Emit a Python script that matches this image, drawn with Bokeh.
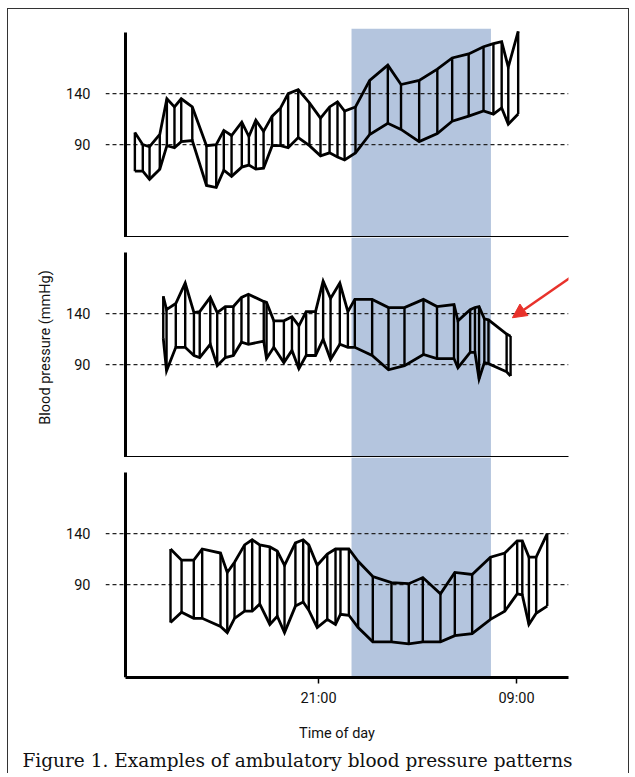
from bokeh.plotting import figure
from bokeh.models import (Range1d, Span, BoxAnnotation, FixedTicker, Arrow, NormalHead,
                          Title, LinearAxis)
from bokeh.layouts import column
from bokeh.embed import file_html
from bokeh.resources import INLINE

# ---------------- data (hours of day; values > 24 are the next morning) ----------------
P1_HOURS = [9.87, 10.35, 10.76, 11.38, 11.81, 12.27, 12.68, 13.35, 14.21, 14.8, 15.26, 15.73,
            16.35, 16.78, 17.2, 17.67, 18.19, 18.7, 19.16, 19.77, 20.45, 21.12, 21.67, 22.15,
            22.58, 23.24, 24.1, 25.2, 26.0, 27.1, 28.2, 29.1, 30.1, 31.0, 31.6, 32.1, 32.5, 33.1]
P1_SYS = [102, 90, 88, 100, 135, 127, 135, 127, 89, 90, 104, 99,
          112, 98, 114, 103, 118, 126, 140, 144, 131, 116, 127, 132,
          123, 127, 153, 168, 149, 153, 164, 175, 179, 186, 189, 191, 166, 201]
P1_DIA = [64, 64, 56, 66, 89, 87, 93, 94, 50, 48, 65, 59,
          68, 70, 66, 67, 89, 89, 87, 97, 89, 79, 82, 78,
          75, 82, 100, 111, 105, 93, 101, 113, 118, 123, 120, 126, 110, 120]

P2_HOURS = [11.59, 11.79, 12.35, 12.92, 13.45, 13.8, 14.44, 14.86, 15.35, 15.84, 16.33, 16.75,
            17.68, 17.85, 18.29, 18.9, 19.39, 19.81, 20.25, 20.82, 21.28, 21.73, 22.29, 22.78,
            23.2, 24.25, 25.24, 26.21, 27.36, 28.18, 29.21, 29.45, 30.19, 30.48, 30.73, 31.05,
            31.3, 32.4, 32.64]
P2_SYS = [157, 144, 150, 170, 141, 142, 156, 141, 147, 147, 156, 159,
          152, 151, 133, 133, 137, 128, 142, 142, 172, 155, 170, 142,
          154, 154, 146, 146, 154, 147, 149, 133, 144, 146, 147, 135,
          134, 120, 118]
P2_DIA = [116, 84, 107, 107, 99, 97, 110, 89, 97, 99, 112, 110,
          113, 96, 107, 92, 104, 86, 99, 99, 115, 95, 110, 107,
          107, 99, 85, 89, 100, 96, 96, 87, 102, 102, 76, 92,
          91, 83, 79]

P3_HOURS = [12.03, 12.7, 13.44, 13.95, 15.06, 15.47, 15.91, 16.52, 16.98, 17.44, 18.05, 18.5,
            18.94, 19.6, 20.07, 20.41, 20.92, 21.53, 22.03, 22.33, 22.84, 23.4, 24.29, 25.42,
            26.47, 27.32, 28.39, 29.26, 30.31, 31.42, 32.29, 33.04, 33.35, 33.75, 34.19, 34.86]
P3_SYS = [125, 114, 114, 125, 121, 102, 112, 129, 134, 129, 127, 123,
          109, 131, 134, 129, 109, 120, 125, 125, 125, 113, 98, 92,
          91, 97, 81, 102, 100, 117, 121, 133, 133, 117, 117, 140]
P3_DIA = [53, 63, 57, 57, 49, 43, 57, 64, 64, 71, 51, 59,
          43, 69, 73, 65, 48, 56, 51, 61, 60, 48, 34, 34,
          32, 34, 34, 40, 42, 56, 64, 81, 80, 51, 62, 69]

REF_LEVELS = [90, 140]
X_TICKS = [21, 33]
X_TICK_LABELS = ["21:00", "09:00"]
NIGHT_START, NIGHT_END = 23.0, 31.45
ARROW_FROM = (36.5, 178)
ARROW_TO = (32.75, 136)

Y_LABEL = "Blood pressure (mmHg)"
X_LABEL = "Time of day"
CAPTION = "Figure 1. Examples of ambulatory blood pressure patterns"

# ---------------- layout / style ----------------
X_START, X_END = 8.09, 36.15
AXIS_X = 9.3
Y_MIN, Y_AXIS_TOP = -1, 200
PX_PER_UNIT = 1.02
FRAME_W = 463
BAND = "#b4c5de"
RED = "#e8322b"
SANS = "Roboto"


def make_panel(hours, sys, dia, frame_h, top_border, bottom=False, ylabel=None):
    p = figure(frame_width=FRAME_W, frame_height=frame_h,
               x_range=Range1d(X_START, X_END),
               y_range=Range1d(Y_MIN, Y_MIN + frame_h / PX_PER_UNIT),
               output_backend="svg", toolbar_location=None,
               min_border_left=97, min_border_right=60,
               min_border_top=top_border, min_border_bottom=0)
    p.outline_line_color = None
    p.grid.visible = False

    p.add_layout(BoxAnnotation(left=NIGHT_START, right=NIGHT_END, fill_color=BAND,
                               fill_alpha=1, line_color=None, level="underlay"))
    for lv in REF_LEVELS:
        p.add_layout(Span(location=lv, dimension="width", line_color="#222222",
                          line_width=1.3, line_dash="4 3", level="underlay"))

    p.segment(x0=hours, y0=dia, x1=hours, y1=sys, line_color="black", line_width=2.4)
    p.line(hours, sys, line_color="black", line_width=2.8, line_join="miter")
    p.line(hours, dia, line_color="black", line_width=2.8, line_join="miter")

    # label-only axis at the frame edge
    ya = p.yaxis[0]
    ya.ticker = FixedTicker(ticks=REF_LEVELS)
    ya.axis_line_color = None
    ya.major_tick_line_color = None
    ya.minor_tick_line_color = None
    ya.major_label_standoff = 9
    ya.major_label_text_font = SANS
    ya.major_label_text_font_size = "14.5px"
    ya.major_label_text_color = "#111111"
    if ylabel:
        ya.axis_label = ylabel
        ya.axis_label_text_font = SANS
        ya.axis_label_text_font_size = "14.5px"
        ya.axis_label_text_font_style = "normal"
        ya.axis_label_text_color = "#111111"
        ya.axis_label_standoff = 9

    # the drawn vertical axis line
    line_axis = LinearAxis(fixed_location=AXIS_X, bounds=(Y_MIN, Y_AXIS_TOP),
                           ticker=FixedTicker(ticks=[]), major_tick_out=0, major_tick_in=0,
                           minor_tick_out=0, minor_tick_in=0, major_label_standoff=0,
                           axis_line_width=3)
    p.add_layout(line_axis, "left")

    xa = p.xaxis[0]
    xa.bounds = (AXIS_X, X_END)
    xa.axis_line_width = 3
    xa.minor_tick_out = 0
    xa.minor_tick_in = 0
    xa.major_tick_in = 0
    if bottom:
        xa.ticker = FixedTicker(ticks=X_TICKS)
        xa.major_label_overrides = {t: s for t, s in zip(X_TICKS, X_TICK_LABELS)}
        xa.major_tick_out = 6
        xa.major_tick_line_width = 1.5
        xa.major_label_standoff = 6
        xa.major_label_text_font = SANS
        xa.major_label_text_font_size = "14.5px"
        xa.major_label_text_color = "#111111"
        xa.axis_label = X_LABEL
        xa.axis_label_text_font = SANS
        xa.axis_label_text_font_size = "14.5px"
        xa.axis_label_text_font_style = "normal"
        xa.axis_label_text_color = "#111111"
        xa.axis_label_standoff = 15
    else:
        xa.ticker = FixedTicker(ticks=[])
        xa.major_tick_out = 0
        xa.major_label_standoff = 0
    return p


p1 = make_panel(P1_HOURS, P1_SYS, P1_DIA, 209, 19)
p2 = make_panel(P2_HOURS, P2_SYS, P2_DIA, 220, 0, ylabel=Y_LABEL)
p3 = make_panel(P3_HOURS, P3_SYS, P3_DIA, 220, 0, bottom=True)

p2.add_layout(Arrow(end=NormalHead(fill_color=RED, line_color=RED, size=14),
                    x_start=ARROW_FROM[0], y_start=ARROW_FROM[1],
                    x_end=ARROW_TO[0], y_end=ARROW_TO[1],
                    line_color=RED, line_width=2.5))

p3.add_layout(Title(text=CAPTION, align="left", offset=-83, text_font="DejaVu Serif",
                    text_font_size="18.5px", text_font_style="normal", text_color="#111111",
                    standoff=6), "below")
p3.min_border_bottom = 0

layout = column(p1, p2, p3, styles={"border-left": "1px solid #333333",
                                    "border-top": "1px solid #333333",
                                    "border-right": "1px solid #333333",
                                    "margin-left": "7px", "margin-top": "8px"})

open("out.html", "w").write(file_html(layout, INLINE))
